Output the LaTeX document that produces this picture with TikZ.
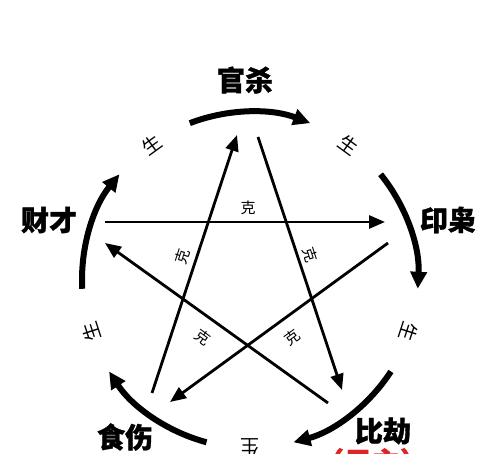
\documentclass[tikz,border=0pt]{standalone}
\usepackage{fontspec}
\newfontfamily\cjk[BoldFeatures={FakeBold=1.2}]{Noto Sans CJK SC}
\usetikzlibrary{arrows.meta,calc}
\definecolor{zhured}{RGB}{222,36,36}
\tikzset{
  ring/.style={line width=6pt,-{Triangle[length=17pt,width=16pt]}},
  ke/.style={line width=2.8pt,-{Triangle[length=16pt,width=13pt]}},
  vlabel/.style={font=\cjk\bfseries\fontsize{28}{30}\selectfont,inner sep=0pt},
  sheng/.style={font=\cjk\fontsize{19}{20}\selectfont,inner sep=0pt},
  kelabel/.style={font=\cjk\fontsize{15}{16}\selectfont,inner sep=0pt},
}
\begin{document}
\begin{tikzpicture}[x=1pt,y=1pt]
\fill[white] (0,0) rectangle (500,454);
\useasboundingbox (0,0) rectangle (500,454);
\coordinate (C) at (250,174);
% vertex labels
\node[vlabel] (guan) at (245,374) {官杀};
\node[vlabel] (yin)  at (448,234) {印枭};
\node[vlabel] (bi)   at (383,23)  {比劫};
\node[vlabel] (shi)  at (125,17)  {食伤};
\node[vlabel] (cai)  at (49,234)  {财才};
\node[vlabel,text=zhured,anchor=north] (rizhu) at (372,6) {（日主）};
% sheng ring arcs (clockwise)
\foreach \t/\n in {90/a,18/b,-54/c,-126/d,162/e}{
  \coordinate (arc\n) at ($(C)+(\t+21:168)$);
  \draw[ring] (arc\n) arc[start angle=\t+21,end angle=\t-21,radius=168];
}
% sheng labels
\foreach \t/\n in {126/a,54/b,-18/c,-90/d,198/e}{
  \node[sheng,rotate=\t-90] (sheng\n) at ($(C)+(\t:167)$) {生};
}
% ke lines: endpoints
\coordinate (caiout) at (105,232);  \coordinate (yinin)  at (385,232);
\coordinate (shiout) at (152,61);   \coordinate (guanin) at (237,319);
\coordinate (guanout) at (258,317); \coordinate (biin)   at (342,64);
\coordinate (yinout) at (388,211);  \coordinate (shiin)  at (170,52);
\coordinate (biout)  at (328,51);   \coordinate (caiin)  at (105,211);
\draw[ke] (caiout) -- (yinin);
\draw[ke] (shiout) -- (guanin);
\draw[ke] (guanout) -- (biin);
\draw[ke] (yinout) -- (shiin);
\draw[ke] (biout) -- (caiin);
% ke labels
\node[kelabel] (ke1) at (248,246) {克};
\node[kelabel,rotate=72] (ke2) at (182,197) {克};
\node[kelabel,rotate=-72] (ke3) at (310,199) {克};
\node[kelabel,rotate=-36] (ke4) at (203,117) {克};
\node[kelabel,rotate=36] (ke5) at (292,117) {克};
\end{tikzpicture}
\end{document}
